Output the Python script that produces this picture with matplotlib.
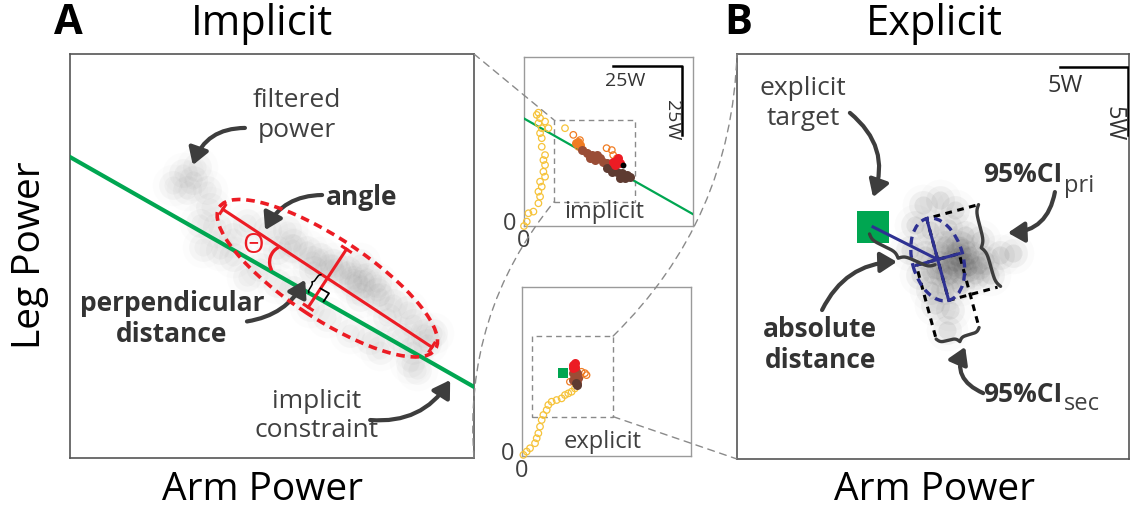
import numpy as np
import matplotlib.pyplot as plt
from matplotlib.patches import Ellipse, Rectangle, Arc, ConnectionPatch

plt.rcParams['font.family'] = ['Open Sans', 'DejaVu Sans']

# ---- panel A (implicit): filtered arm / leg power, box units 0-100
constraint_b0 = 74.5
constraint_b1 = -0.569
filt_a_x = [28.0, 25.5, 31.4, 33.9, 29.0, 30.4, 34.7, 32.2, 36.4, 40.3, 32.9,
            43.7, 48.7, 53.6, 55.3, 51.2, 58.6, 61.9, 65.2, 60.2, 68.5,
            71.8, 73.4, 70.1, 75.9, 76.7, 71.8, 80.0, 83.3, 78.4, 85.0,
            87.5, 81.7, 85.0, 88.3, 47.0, 43.7, 51.2, 55.3, 59.4, 63.5,
            69.3, 74.3, 76.7, 84.2, 85.8, 89.9, 40.4, 37.1,
            55, 60, 66, 72, 76, 64, 70]
filt_a_y = [70.5, 67.6, 72.0, 66.3, 66.3, 68.8, 62.1, 58.2, 57.2, 54.7, 52.2,
            58.1, 56.4, 56.4, 53.1, 51.5, 51.5, 49.8, 48.2, 46.5, 46.5,
            48.2, 44.9, 43.2, 43.2, 39.9, 39.9, 38.3, 36.6, 35.0, 33.3,
            30.9, 30.0, 26.7, 28.4, 47.4, 44.9, 43.2, 41.6, 37.5, 35.0,
            30.9, 29.2, 26.7, 23.4, 21.8, 30.9, 49.8, 51.5,
            52, 49, 46, 43, 41, 47, 44]
ell_a_xy = (63.7, 44.5)
ell_a_len = (64.0, 20.0)
ell_a_angle = -33.4
axis_a_half = (31.0, 8.6)

# ---- panel B (explicit)
target_b = (34.7, 59.2)
filt_b_x = [47.4, 51.8, 55.6, 45.4, 49.2, 53.8, 58.2, 62.0, 44.1, 48.0, 51.8,
            55.6, 59.4, 63.3, 67.1, 70.4, 46.7, 50.5, 54.3, 57.4, 60.7, 64.5,
            49.2, 53.1, 56.9, 50.5, 54.3, 53.6, 51.8, 55.6, 58.2, 54.3, 53.1, 56.9,
            56.0, 59.0, 61.5, 57.5, 52.5]
filt_b_y = [64.8, 66.1, 63.5, 59.7, 58.4, 58.9, 57.1, 55.9, 53.3, 52.0, 53.3,
            53.3, 52.0, 50.8, 52.0, 52.6, 46.9, 48.2, 49.5, 48.2, 46.9, 46.9,
            43.1, 43.1, 44.4, 39.3, 38.0, 32.9, 49.5, 50.3, 50.3, 46.9, 54.6, 54.6,
            51.5, 49.0, 49.5, 52.5, 47.5]
ci_xy = (51.2, 50.9)
ci_angle = -74.9
ci_half = (10.8, 5.67)
ell_b_len = (21.6, 13.0)
ci_box = (12.9, 18.9)
units_per_watt = 100 / 28.8

# ---- power trajectories (W)
imp_yel_x = [0.0, 1.0, 1.6, 3.4, 5.2, 5.8, 5.2, 6.4, 5.8, 7.6, 7.0, 7.6, 7.0,
             7.6, 6.4, 6.4, 5.8, 6.4, 5.2, 5.8, 4.6, 5.2, 7.6, 8.8, 14.8]
imp_yel_y = [0.0, 1.6, 4.6, 5.2, 8.2, 10.6, 12.4, 14.2, 16.0, 17.8, 19.6, 22.0,
             23.8, 25.6, 28.6, 31.7, 33.5, 35.3, 37.1, 38.9, 40.1, 40.9, 37.7, 35.3, 35.3]
imp_org_x = [17.8, 20.2, 19.6, 29.8, 31.7, 32.2, 33.5, 21.4]
imp_org_y = [32.9, 31.0, 28.6, 28.1, 27.4, 25.6, 24.4, 27.4]
imp_ofill_x = [19.6, 20.2, 18.8]
imp_ofill_y = [30.4, 29.2, 30.0]
imp_brown_x = [20.8, 22.6, 24.4, 26.2, 25.6, 27.4, 28.6, 29.9, 23.8, 31.0]
imp_brown_y = [27.4, 26.2, 25.6, 25.6, 23.8, 24.4, 23.2, 22.6, 24.4, 21.4]
imp_dark_x = [29.9, 31.7, 33.5, 35.3, 37.1, 38.3, 34.7, 32.2, 36.5]
imp_dark_y = [20.8, 19.6, 19.6, 19.0, 18.4, 17.8, 17.2, 20.8, 17.2]
imp_red_x = [32.2, 33.5, 34.7, 32.9, 34.0]
imp_red_y = [23.2, 23.8, 22.6, 22.0, 24.4]
imp_last = (35.6, 22.0)
imp_b0, imp_b1 = 38.8, -0.566

exp_yel_x = [0.5, 1.7, 2.9, 4.7, 5.3, 5.9, 6.5, 7.1, 7.7, 8.9, 9.5, 10.7, 12.5,
             14.3, 15.5, 16.7, 17.9, 19.1]
exp_yel_y = [0.4, 1.6, 2.8, 4.6, 6.4, 8.2, 10.6, 13.0, 14.8, 16.6, 18.4, 19.6,
             20.2, 20.8, 22.0, 22.6, 23.2, 24.4]
exp_org_x = [20.9, 22.7, 23.3, 17.3, 21.5]
exp_org_y = [28.6, 29.9, 29.2, 26.8, 30.4]
exp_brown_x = [18.5, 19.1, 19.7, 18.5, 19.7, 20.3, 19.1]
exp_brown_y = [29.9, 28.0, 26.2, 27.4, 29.9, 28.0, 31.0]
exp_red_x = [18.5, 19.1, 18.3, 19.1]
exp_red_y = [32.9, 33.7, 31.7, 32.2]
exp_dark_x = [19.7, 19.5]
exp_dark_y = [25.6, 26.4]
exp_target = (14.7, 30.1)

inset_lim = 61
imp_zoom = (10.8, 8.7, 29.3, 29.6)
exp_zoom = (3.5, 14.2, 29.4, 29.1)

DARK = '#3d3d3d'
GREEN = '#00a651'
RED = '#ec1c24'
BLUE = '#2e3192'
YEL = '#f6c33a'
ORG = '#f07c22'
BROWN = '#9a4d36'
DBROWN = '#5e3b31'

W, H = 1139, 508
fig = plt.figure(figsize=(W / 100, H / 100), dpi=100)


def px_box(left, top, width, height):
    return [left / W, 1 - (top + height) / H, width / W, height / H]


def ftext(px, py, s, **kw):
    fig.text(px / W, 1 - py / H, s, ha='center', va='center', **kw)


def frame(ax, color, lw):
    ax.set_xticks([])
    ax.set_yticks([])
    for sp in ax.spines.values():
        sp.set_color(color)
        sp.set_linewidth(lw)


def arrow(ax, tail, head, rad):
    ax.annotate('', xy=head, xytext=tail, annotation_clip=False,
                arrowprops=dict(arrowstyle='-|>,head_length=0.55,head_width=0.34',
                                connectionstyle=f'arc3,rad={rad}', color=DARK,
                                lw=3.0, mutation_scale=18, shrinkA=0, shrinkB=0))


def brace(ax, p0, p1, depth, **kw):
    p0 = np.asarray(p0, float)
    p1 = np.asarray(p1, float)
    d = p1 - p0
    length = np.hypot(*d)
    u = d / length
    n = np.array([-u[1], u[0]])
    half = length / 2
    s = np.linspace(0, half, 80)
    k = 14 / half
    prof = 1 / (1 + np.exp(-k * s)) + 1 / (1 + np.exp(-k * (s - half))) - 0.5
    s_full = np.concatenate([s, length - s[::-1]])
    prof_full = np.concatenate([prof, prof[::-1]])
    pts = p0 + np.outer(s_full, u) + np.outer(prof_full * depth, n)
    ax.plot(pts[:, 0], pts[:, 1], solid_capstyle='round', zorder=6, **kw)


def soft_cloud(ax, x, y, shade, alphas):
    # stacked translucent discs give the blurred look of the filtered samples
    for size, alpha in zip((900, 430, 170), alphas):
        ax.scatter(x, y, s=size, color=shade, alpha=alpha, lw=0, zorder=1)


# ================= panel A =================
ax_a = fig.add_axes(px_box(70, 54, 404, 404))
ax_a.set_xlim(0, 100)
ax_a.set_ylim(0, 100)
frame(ax_a, '#555555', 1.2)

soft_cloud(ax_a, filt_a_x, filt_a_y, '0.5', (0.02, 0.05, 0.05))

xs = np.array([0, 100])
ax_a.plot(xs, constraint_b0 + constraint_b1 * xs, color=GREEN, lw=3, zorder=3)

ax_a.add_patch(Ellipse(ell_a_xy, *ell_a_len, angle=ell_a_angle, fill=False,
                       ec=RED, lw=2.6, ls=(0, (2.4, 1.6)), zorder=4))
c = np.array(ell_a_xy)
ang = np.deg2rad(ell_a_angle)
u1 = np.array([np.cos(ang), np.sin(ang)])
u2 = np.array([-np.sin(ang), np.cos(ang)])
for half, u, v in [(axis_a_half[0], u1, u2), (axis_a_half[1], u2, u1)]:
    p, q = c - half * u, c + half * u
    ax_a.plot([p[0], q[0]], [p[1], q[1]], color=RED, lw=2.2, zorder=5)
    for e in (p, q):
        ax_a.plot([e[0] - 1.2 * v[0], e[0] + 1.2 * v[0]],
                  [e[1] - 1.2 * v[1], e[1] + 1.2 * v[1]], color=RED, lw=2.2, zorder=5)

# foot of the perpendicular on the constraint line
t = (constraint_b0 + constraint_b1 * c[0] - c[1]) / (u2[1] - constraint_b1 * u2[0])
foot = c + t * u2
dg = np.array([1, constraint_b1]) / np.hypot(1, constraint_b1)
sq = 2.4
corner = np.array([foot + sq * u2, foot + sq * u2 + sq * dg, foot + sq * dg])
ax_a.plot(corner[:, 0], corner[:, 1], color='k', lw=1.3, zorder=6)
brace(ax_a, c - 1.8 * dg, foot - 1.8 * dg, -0.9, color='k', lw=1.1)

ax_a.add_patch(Arc((53.5, 48.5), 8.2, 8.2, theta1=117, theta2=210, color=RED, lw=2.4, zorder=5))
ax_a.text(45.3, 52.5, 'Θ', color=RED, fontsize=20, ha='center', va='center', zorder=6)

ax_a.text(56.2, 84.7, 'filtered\npower', fontsize=19, color='#404040',
          ha='center', va='center', linespacing=1.25)
ax_a.text(72.3, 64.6, 'angle', fontsize=19, color='#333333', fontweight='bold',
          ha='center', va='center')
ax_a.text(25.2, 34.4, 'perpendicular\ndistance', fontsize=19, color='#333333',
          fontweight='bold', ha='center', va='center', linespacing=1.15)
ax_a.text(61.1, 10.4, 'implicit\nconstraint', fontsize=19, color='#404040',
          ha='center', va='center', linespacing=1.2)

arrow(ax_a, (43.3, 81.7), (30.4, 72.5), 0.35)
arrow(ax_a, (62.4, 65.1), (48.3, 56.4), 0.3)
arrow(ax_a, (43.8, 33.8), (58.2, 44.1), 0.25)
arrow(ax_a, (74.3, 9.4), (94.1, 19.3), 0.3)

# ================= panel B =================
ax_b = fig.add_axes(px_box(737, 54, 392, 405))
ax_b.set_xlim(0, 100)
ax_b.set_ylim(0, 100 * 405 / 392)
frame(ax_b, '#555555', 1.2)

soft_cloud(ax_b, filt_b_x, filt_b_y, '0.3', (0.02, 0.06, 0.09))

ax_b.scatter(*target_b, marker='s', s=520, color=GREEN, lw=0, zorder=3)

cb = np.array(ci_xy)
a = np.deg2rad(ci_angle)
v_pri = np.array([np.cos(a), np.sin(a)])
v_sec = np.array([-np.sin(a), np.cos(a)])
if v_sec[0] < 0:
    v_sec = -v_sec
pri_top, pri_bot = cb - ci_half[0] * v_pri, cb + ci_half[0] * v_pri
sec_l, sec_r = cb - ci_half[1] * v_sec, cb + ci_half[1] * v_sec

# confidence boxes, left open on the side carrying the brace
pri_box = np.array([pri_top + ci_box[0] * v_sec, pri_top, pri_bot, pri_bot + ci_box[0] * v_sec])
sec_box = np.array([sec_l + ci_box[1] * v_pri, sec_l, sec_r, sec_r + ci_box[1] * v_pri])
for bx in (pri_box, sec_box):
    ax_b.plot(bx[:, 0], bx[:, 1], color='k', lw=2.2, ls=(0, (2.2, 1.8)), zorder=4)
ax_b.add_patch(Ellipse(ci_xy, *ell_b_len, angle=ci_angle, fill=False, ec=BLUE, lw=2.4,
                       ls=(0, (2.4, 1.6)), zorder=5))
ax_b.plot([pri_top[0], pri_bot[0]], [pri_top[1], pri_bot[1]], color=BLUE, lw=2.2, zorder=5)
ax_b.plot([sec_l[0], sec_r[0]], [sec_l[1], sec_r[1]], color=BLUE, lw=2.2, zorder=5)
ax_b.plot([target_b[0], cb[0]], [target_b[1], cb[1]], color=BLUE, lw=2.2, zorder=5)

off = ci_box[0] + 0.8
brace(ax_b, pri_top + off * v_sec, pri_bot + off * v_sec, -2.2, color=DARK, lw=2.4)
off = ci_box[1] + 0.6
brace(ax_b, sec_l + off * v_pri, sec_r + off * v_pri, -2.2, color=DARK, lw=2.4)
dv = (cb - np.array(target_b)) / np.hypot(*(cb - np.array(target_b)))
nv = np.array([-dv[1], dv[0]])
brace(ax_b, np.array(target_b) - 2.0 * nv, cb - 1.5 * nv, -2.5, color=DARK, lw=2.4)

sb = 5 * units_per_watt
ax_b.plot([99.7 - sb, 99.7, 99.7], [100, 100, 100 - sb], color='k', lw=1.8, zorder=5)
ax_b.text(83.7, 95.2, '5W', fontsize=17, color='#333333', ha='center', va='center')
ax_b.text(96.0, 85.6, '5W', fontsize=17, color='#333333', ha='center', va='center', rotation=-90)

ax_b.text(16.8, 90.6, 'explicit\ntarget', fontsize=19, color='#404040',
          ha='center', va='center', linespacing=1.25)
ax_b.text(21.2, 29.1, 'absolute\ndistance', fontsize=19, color='#333333',
          fontweight='bold', ha='center', va='center', linespacing=1.15)
for yb, ys, sub in [(70.7, 68.2, 'pri'), (14.6, 12.5, 'sec')]:
    ax_b.text(83.0, yb, '95%CI', fontsize=19, color='#333333', fontweight='bold',
              ha='right', va='baseline')
    ax_b.text(83.3, ys, sub, fontsize=17, color='#404040', ha='left', va='baseline')

arrow(ax_b, (28.8, 88.3), (34.7, 66.8), -0.35)
arrow(ax_b, (81.1, 68.1), (69.1, 57.7), -0.4)
arrow(ax_b, (21.7, 38.0), (40.8, 50.3), -0.3)
arrow(ax_b, (62.8, 16.8), (58.2, 28.6), -0.5)

# ================= trajectory insets =================
def inset(box, zoom, label):
    ax = fig.add_axes(px_box(*box))
    ax.set_xlim(0, inset_lim)
    ax.set_ylim(0, inset_lim)
    frame(ax, '#9a9a9a', 1.0)
    ax.add_patch(Rectangle(zoom[:2], zoom[2], zoom[3], fill=False, ec='#8a8a8a',
                           lw=1.0, ls=(0, (4, 3)), zorder=2))
    ax.text(-5.1, 0.8, '0', fontsize=17, color='#404040', ha='center', va='center')
    ax.text(0.0, -5.5, '0', fontsize=17, color='#404040', ha='center', va='center')
    ax.text(29, 5.1, label, fontsize=17, color='#404040', ha='center', va='center')
    return ax


def open_pts(ax, x, y, col):
    ax.scatter(x, y, s=22, facecolors='none', edgecolors=col, lw=0.9, zorder=4, clip_on=False)


def fill_pts(ax, x, y, col, s=42):
    ax.scatter(x, y, s=s, color=col, lw=0, zorder=5, clip_on=False)


ax_t = inset((524, 57, 169, 169), imp_zoom, 'implicit')
xi = np.array([0, inset_lim])
ax_t.plot(xi, imp_b0 + imp_b1 * xi, color=GREEN, lw=1.6, zorder=3)
open_pts(ax_t, imp_yel_x, imp_yel_y, YEL)
open_pts(ax_t, imp_org_x, imp_org_y, ORG)
fill_pts(ax_t, imp_ofill_x, imp_ofill_y, ORG)
fill_pts(ax_t, imp_brown_x, imp_brown_y, BROWN)
fill_pts(ax_t, imp_dark_x, imp_dark_y, DBROWN)
fill_pts(ax_t, imp_red_x, imp_red_y, RED)
fill_pts(ax_t, *imp_last, 'k', s=18)
ax_t.plot([32.0, 57.0, 57.0], [57.8, 57.8, 32.8], color='k', lw=1.8)
ax_t.text(36.5, 52.5, '25W', fontsize=14, color='#333333', ha='center', va='center')
ax_t.text(53.3, 38.3, '25W', fontsize=14, color='#333333', ha='center', va='center', rotation=-90)

ax_e = inset((522, 287, 169, 169), exp_zoom, 'explicit')
ax_e.scatter(*exp_target, marker='s', s=45, color=GREEN, lw=0, zorder=3)
open_pts(ax_e, exp_yel_x, exp_yel_y, YEL)
open_pts(ax_e, exp_org_x, exp_org_y, ORG)
fill_pts(ax_e, exp_brown_x, exp_brown_y, BROWN)
fill_pts(ax_e, exp_dark_x, exp_dark_y, DBROWN)
fill_pts(ax_e, exp_red_x, exp_red_y, RED)


def connector(xyA, trA, xyB, trB, rad=0.0):
    con = ConnectionPatch(xyA=xyA, coordsA=trA, xyB=xyB, coordsB=trB,
                          connectionstyle=f'arc3,rad={rad}', color='#8a8a8a',
                          lw=1.0, ls=(0, (5, 4)))
    fig.add_artist(con)


connector((1, 1), ax_a.transAxes, (imp_zoom[0], imp_zoom[1] + imp_zoom[3]), ax_t.transData)
connector((1, 0), ax_a.transAxes, imp_zoom[:2], ax_t.transData, rad=-0.2)
connector((exp_zoom[0] + exp_zoom[2], exp_zoom[1] + exp_zoom[3]), ax_e.transData,
          (0, 1), ax_b.transAxes, rad=0.2)
connector((exp_zoom[0] + exp_zoom[2], exp_zoom[1]), ax_e.transData, (0, 0), ax_b.transAxes)

# ================= titles and axis names =================
ftext(68, 24, 'A', fontsize=30, fontweight='bold', color='k')
ftext(262, 24, 'Implicit', fontsize=30, color='k')
ftext(738, 24, 'B', fontsize=30, fontweight='bold', color='k')
ftext(934, 24, 'Explicit', fontsize=30, color='k')
ftext(30, 255, 'Leg Power', fontsize=28, color='k', rotation=90)
ftext(262, 490, 'Arm Power', fontsize=28, color='k')
ftext(934, 490, 'Arm Power', fontsize=28, color='k')

fig.savefig('out.png', dpi=100)
